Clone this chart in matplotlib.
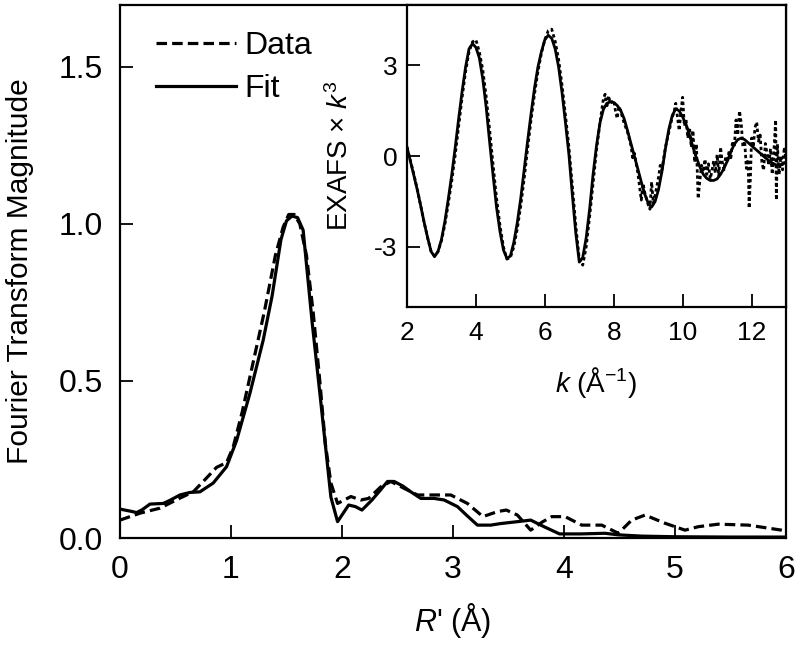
import matplotlib
matplotlib.use("Agg")
import matplotlib.pyplot as plt

plt.rcParams['font.family'] = ['Liberation Sans', 'DejaVu Sans']
plt.rcParams['mathtext.fontset'] = 'custom'
plt.rcParams['mathtext.rm'] = 'Liberation Sans'
plt.rcParams['mathtext.it'] = 'Liberation Sans:italic'
plt.rcParams['mathtext.bf'] = 'Liberation Sans:bold'

# ---- main panel: Fourier transform magnitude ----
r_fit = [0.0, 0.1, 0.15, 0.2, 0.27, 0.39, 0.45, 0.54, 0.63, 0.72, 0.84, 0.96, 1.05, 1.17,
         1.29, 1.37, 1.45, 1.5, 1.55, 1.6, 1.65, 1.73, 1.81, 1.9, 1.96, 2.06, 2.12, 2.18,
         2.27, 2.34, 2.41, 2.47, 2.55, 2.62, 2.71, 2.83, 2.92, 3.04, 3.13, 3.22, 3.34, 3.43,
         3.58, 3.7, 3.82, 3.96, 4.15, 4.37, 4.49, 4.7, 5.0, 5.5, 6.0]
ft_fit = [0.092, 0.085, 0.081, 0.09, 0.108, 0.11, 0.12, 0.137, 0.145, 0.147, 0.175, 0.227, 0.31, 0.46,
          0.63, 0.77, 0.95, 1.01, 1.025, 1.02, 0.98, 0.69, 0.43, 0.13, 0.052, 0.105, 0.1, 0.089,
          0.121, 0.15, 0.18, 0.18, 0.165, 0.147, 0.126, 0.126, 0.121, 0.1, 0.07, 0.041, 0.041, 0.046,
          0.052, 0.057, 0.036, 0.013, 0.013, 0.015, 0.01, 0.006, 0.004, 0.003, 0.003]

r_dat = [0.0, 0.18, 0.36, 0.54, 0.66, 0.75, 0.87, 0.96, 1.02, 1.1, 1.2, 1.3, 1.4, 1.47, 1.52,
         1.57, 1.62, 1.68, 1.74, 1.8, 1.85, 1.9, 1.96, 2.08, 2.17, 2.24, 2.35, 2.44, 2.56,
         2.68, 2.83, 2.98, 3.13, 3.27, 3.4, 3.48, 3.58, 3.7, 3.8, 3.89, 4.01, 4.16, 4.34,
         4.49, 4.61, 4.73, 4.91, 5.09, 5.21, 5.39, 5.66, 5.96, 6.0]
ft_dat = [0.057, 0.079, 0.095, 0.127, 0.147, 0.18, 0.225, 0.24, 0.29, 0.4, 0.56, 0.72, 0.9, 0.99, 1.03,
          1.03, 1.0, 0.9, 0.72, 0.5, 0.3, 0.175, 0.11, 0.132, 0.121, 0.126, 0.163, 0.18, 0.158,
          0.137, 0.137, 0.137, 0.11, 0.068, 0.084, 0.089, 0.073, 0.025, 0.05, 0.068, 0.068, 0.041, 0.041,
          0.015, 0.057, 0.073, 0.047, 0.025, 0.036, 0.044, 0.041, 0.025, 0.022]

main_xticks = [0, 1, 2, 3, 4, 5, 6]
main_yticks = [0.0, 0.5, 1.0, 1.5]

# ---- inset: EXAFS x k^3 ----
k_fit = [2.0, 2.1, 2.2, 2.3, 2.4, 2.5, 2.6, 2.7, 2.8, 2.9, 3.0, 3.1, 3.2, 3.3, 3.4, 3.5, 3.6, 3.7,
         3.8, 3.9, 4.0, 4.1, 4.2, 4.3, 4.4, 4.5, 4.6, 4.7, 4.8, 4.9, 5.0, 5.1, 5.2, 5.3, 5.4, 5.5,
         5.6, 5.7, 5.8, 5.9, 6.0, 6.1, 6.2, 6.3, 6.4, 6.5, 6.6, 6.7, 6.8, 6.9, 7.0, 7.1, 7.2, 7.3,
         7.4, 7.5, 7.6, 7.7, 7.8, 7.9, 8.0, 8.1, 8.2, 8.3, 8.4, 8.5, 8.6, 8.7, 8.8, 8.9, 9.0, 9.1,
         9.2, 9.3, 9.4, 9.5, 9.6, 9.7, 9.8, 9.9, 10.0, 10.1, 10.2, 10.3, 10.4, 10.5, 10.6, 10.7,
         10.8, 10.9, 11.0, 11.1, 11.2, 11.3, 11.4, 11.5, 11.6, 11.7, 11.8, 11.9, 12.0, 12.1, 12.2,
         12.3, 12.4, 12.5, 12.6, 12.7, 12.8, 12.9, 13.0]
chi_fit = [0.3, -0.17, -0.64, -1.12, -1.65, -2.2, -2.7, -3.15, -3.32, -3.15, -2.75, -2.15, -1.4, -0.6,
           0.3, 1.25, 2.15, 2.95, 3.55, 3.72, 3.6, 3.25, 2.55, 1.6, 0.45, -0.65, -1.7, -2.5, -3.1, -3.38,
           -3.3, -2.85, -2.2, -1.4, -0.45, 0.5, 1.4, 2.25, 2.95, 3.45, 3.85, 4.0, 3.9, 3.55, 2.95, 2.1,
           1.1, 0.05, -1.3, -2.55, -3.5, -3.35, -2.7, -1.75, -0.6, 0.35, 1.1, 1.55, 1.75, 1.8, 1.78,
           1.68, 1.52, 1.25, 0.85, 0.42, 0.0, -0.42, -0.85, -1.25, -1.55, -1.68, -1.5, -1.1, -0.5,
           0.25, 0.9, 1.35, 1.57, 1.5, 1.3, 1.05, 0.7, 0.3, -0.05, -0.35, -0.6, -0.73, -0.8, -0.8,
           -0.75, -0.6, -0.4, -0.15, 0.15, 0.4, 0.55, 0.6, 0.55, 0.45, 0.35, 0.25, 0.15, 0.05, -0.05,
           -0.14, -0.22, -0.28, -0.3, -0.26, -0.19]

k_dat = [2.0, 2.1, 2.2, 2.3, 2.4, 2.5, 2.6, 2.7, 2.8, 2.9, 3.0, 3.1, 3.2, 3.3, 3.4, 3.5, 3.6, 3.7,
         3.8, 3.9, 4.0, 4.1, 4.2, 4.3, 4.4, 4.5, 4.6, 4.7, 4.8, 4.9, 5.0, 5.1, 5.2, 5.3, 5.4, 5.5,
         5.6, 5.7, 5.8, 5.9, 6.0, 6.1, 6.2, 6.3, 6.4, 6.5, 6.6, 6.7, 6.8, 6.9, 7.0, 7.1, 7.2, 7.3,
         7.4, 7.5, 7.6, 7.7, 7.75, 7.8, 7.85, 7.9, 8.0, 8.05, 8.1, 8.15, 8.2, 8.3, 8.4, 8.5, 8.55,
         8.6, 8.7, 8.8, 8.85, 8.9, 9.0, 9.05, 9.1, 9.15, 9.2, 9.3, 9.35, 9.4, 9.5, 9.6, 9.7, 9.75,
         9.8, 9.85, 9.9, 9.95, 10.0, 10.05, 10.1, 10.15, 10.2, 10.25, 10.3, 10.35, 10.4, 10.45,
         10.5, 10.55, 10.6, 10.65, 10.7, 10.75, 10.8, 10.85, 10.9, 10.95, 11.0, 11.05, 11.1, 11.15,
         11.2, 11.25, 11.3, 11.35, 11.4, 11.45, 11.5, 11.55, 11.6, 11.65, 11.7, 11.75, 11.8, 11.85,
         11.9, 11.93, 11.97, 12.0, 12.05, 12.1, 12.15, 12.2, 12.25, 12.3, 12.35, 12.4, 12.45, 12.5,
         12.55, 12.6, 12.65, 12.7, 12.72, 12.75, 12.8, 12.85, 12.9, 12.95, 13.0]
chi_dat = [0.3, -0.15, -0.6, -1.1, -1.65, -2.2, -2.7, -3.15, -3.3, -3.15, -2.8, -2.25, -1.55, -0.8,
           0.05, 1.0, 1.95, 2.8, 3.45, 3.78, 3.85, 3.45, 2.85, 1.95, 0.85, -0.3, -1.4, -2.3, -3.0, -3.4,
           -3.35, -3.0, -2.4, -1.65, -0.75, 0.25, 1.2, 2.05, 2.8, 3.4, 3.85, 4.15, 4.2, 3.8, 3.2, 2.35,
           1.35, 0.3, -1.0, -2.3, -3.4, -3.6, -3.0, -2.0, -0.9, 0.2, 1.1, 1.9, 2.05, 1.6, 2.0, 1.75,
           1.85, 1.5, 1.25, 1.65, 1.5, 1.1, 0.8, 0.35, -0.05, 0.1, -0.55, -1.45, -0.9, -1.2, -1.6,
           -1.75, -0.85, -1.55, -1.3, -0.7, -0.3, -0.45, 0.3, 0.8, 1.3, 1.45, 1.75, 1.3, 0.85, 1.5,
           1.95, 1.0, 1.2, 0.6, 0.95, 0.3, 0.85, -0.2, 0.4, -1.4, -0.8, -0.3, -0.45, -0.1, -0.6,
           -0.25, -0.75, -0.5, -0.15, -0.55, 0.05, -0.65, 0.3, -0.2, -0.45, 0.0, -0.2, 0.2, -0.05,
           0.5, 0.3, 1.2, 0.7, 1.5, 1.1, 0.3, 0.5, -0.4, -0.1, -1.72, -0.6, 0.6, 0.3, 0.95, 1.13,
           0.5, 0.7, -0.2, -0.46, 0.42, 0.1, -0.3, 0.25, -0.6, 0.2, 1.2, -1.45, 0.4, -0.6, 0.0,
           -0.45, 0.3, -0.1]

inset_xticks = [2, 4, 6, 8, 10, 12]
inset_yticks = [-3, 0, 3]

W, H = 800, 646
fig = plt.figure(figsize=(W / 100, H / 100), dpi=100)

ax = fig.add_axes([120 / W, 1 - 538 / H, (786 - 120) / W, (538 - 5) / H])
ax.plot(r_dat, ft_dat, color='black', lw=2.3, linestyle=(0, (3.3, 1.6)), label='Data')
ax.plot(r_fit, ft_fit, color='black', lw=2.3, label='Fit')
ax.set_xlim(0, 6)
ax.set_ylim(0, 1.697)
ax.set_xticks(main_xticks)
ax.set_xticklabels([str(t) for t in main_xticks])
ax.set_yticks(main_yticks)
ax.set_yticklabels(['%.1f' % t for t in main_yticks])
ax.tick_params(direction='in', length=9.5, width=1.3, labelsize=23, pad=12,
               top=False, right=False)
for s in ax.spines.values():
    s.set_linewidth(1.6)
ax.set_xlabel("$R$' (Å)", fontsize=22, labelpad=12)
ax.set_ylabel('Fourier Transform Magnitude', fontsize=21.5, labelpad=18)
leg = ax.legend(loc='upper left', bbox_to_anchor=(0.035, 0.975), frameon=False,
                fontsize=23, handlelength=2.5, handletextpad=0.25, labelspacing=0.4,
                borderaxespad=0.0)

ins = fig.add_axes([407 / W, 1 - 307.5 / H, (786 - 407) / W, (307.5 - 5) / H])
ins.set_facecolor('white')
ins.plot(k_dat, chi_dat, color='black', lw=2.0, linestyle=(0, (1.2, 1.0)))
ins.plot(k_fit, chi_fit, color='black', lw=2.0)
ins.set_xlim(2, 13)
ins.set_ylim(-5, 5)
ins.set_xticks(inset_xticks)
ins.set_yticks(inset_yticks)
ins.set_yticklabels([str(t) for t in inset_yticks])
ins.tick_params(direction='in', length=9.5, width=1.3, labelsize=19, pad=10,
                top=False, right=False)
ins.tick_params(axis='y', pad=7)
for s in ins.spines.values():
    s.set_linewidth(1.6)
ins.set_xlabel('$k$ (Å$^{-1}$)', fontsize=20, labelpad=14)
ins.set_ylabel('EXAFS × $k^3$', fontsize=20, labelpad=14)

fig.savefig('out.png', dpi=100)
